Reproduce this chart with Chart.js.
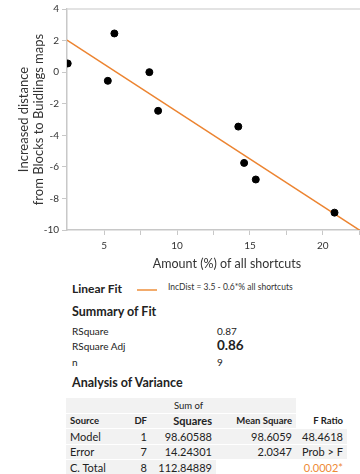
<!DOCTYPE html>
<html>
<head>
<meta charset="utf-8">
<script src="https://cdn.jsdelivr.net/npm/chart.js@4.4.0/dist/chart.umd.min.js"></script>
<style>
  body { margin: 0; background: #fff; font-family: Lato, "Open Sans", sans-serif; color: #222; }
  #wrap { position: relative; width: 360px; height: 474px; overflow: hidden; }
  #chartBox { position: absolute; left: 0; top: 0; width: 392px; height: 276px; }
  .t { position: absolute; white-space: nowrap; line-height: 1; }
  .b { font-weight: bold; }
  table { position: absolute; left: 66px; top: 397px; border-collapse: separate; border-spacing: 0 1px; font-size: 11px; }
  td { height: 14.5px; padding: 0 4px; background: #f2f2f2; text-align: right; white-space: nowrap; }
  td.l { text-align: left; }
  tr.hd td { font-weight: bold; font-size: 9.5px; }
  td.w { background: #fff; }
</style>
</head>
<body>
<div id="wrap">
  <div id="chartBox"><canvas id="fitChart"></canvas></div>

  <div class="t b" style="left:72px; top:283px; font-size:12px;">Linear Fit</div>
  <div style="position:absolute; left:137px; top:289px; width:20px; height:2px; background:#f2ab6c;"></div>
  <div class="t" style="left:168px; top:283px; font-size:8.5px; color:#333;">IncDist = 3.5 - 0.6*% all shortcuts</div>

  <div class="t b" style="left:72px; top:306px; font-size:12.5px;">Summary of Fit</div>
  <div class="t" style="left:72px; top:326px; font-size:10px;">RSquare</div>
  <div class="t" style="left:217px; top:326px; font-size:10px;">0.87</div>
  <div class="t" style="left:72px; top:341px; font-size:10px;">RSquare Adj</div>
  <div class="t b" style="left:217px; top:339px; font-size:13.5px;">0.86</div>
  <div class="t" style="left:72px; top:357px; font-size:10px;">n</div>
  <div class="t" style="left:217px; top:357px; font-size:10px;">9</div>

  <div class="t b" style="left:72px; top:377px; font-size:12.5px;">Analysis of Variance</div>

  <table>
    <tr><td class="l"></td><td></td><td style="text-align:center; padding-left:14px; font-size:9.5px;">Sum of</td><td></td><td class="w"></td></tr>
    <tr class="hd"><td class="l" style="width:55px;">Source</td><td style="width:14px;">DF</td><td style="width:57px; font-size:11px;">Squares</td><td style="width:72px;">Mean Square</td><td class="w" style="width:43px;">F Ratio</td></tr>
    <tr><td class="l">Model</td><td>1</td><td>98.60588</td><td>98.6059</td><td>48.4618</td></tr>
    <tr><td class="l">Error</td><td>7</td><td>14.24301</td><td>2.0347</td><td>Prob &gt; F</td></tr>
    <tr><td class="l">C. Total</td><td>8</td><td>112.84889</td><td class="w"></td><td class="w" style="color:#ee8a36;">0.0002*</td></tr>
  </table>
</div>

<script>
// Amount (%) of all shortcuts vs increased distance
const shortcutPct = [2.5, 5.25, 5.7, 8.1, 8.7, 14.2, 14.6, 15.4, 20.8];
const incDistance = [0.55, -0.55, 2.45, 0.0, -2.45, -3.45, -5.75, -6.8, -8.9];

// fitted line end points
const fitX = [2.45, 24.4];
const fitY = [2.03, -11.14];

const xTicks = [5, 7.5, 10, 12.5, 15, 17.5, 20, 22.5];
const yTicks = [4, 2, 0, -2, -4, -6, -8, -10];

const pointData = shortcutPct.map((x, i) => ({ x: x, y: incDistance[i] }));
const fitData = fitX.map((x, i) => ({ x: x, y: fitY[i] }));

// light frame line along the top of the plot
const topBorder = {
    id: 'topBorder',
    afterDraw(chart) {
        const a = chart.chartArea;
        const c = chart.ctx;
        c.save();
        c.strokeStyle = '#dadada';
        c.lineWidth = 1.5;
        c.beginPath();
        c.moveTo(a.left, a.top);
        c.lineTo(a.right, a.top);
        c.stroke();
        c.restore();
    }
};

const ctx = document.getElementById('fitChart').getContext('2d');
new Chart(ctx, {
    type: 'scatter',
    data: {
        datasets: [
            {
                label: 'Linear Fit',
                data: fitData,
                showLine: true,
                borderColor: '#ec8431',
                borderWidth: 1.5,
                pointRadius: 0,
                order: 2,
            },
            {
                label: 'Observed',
                data: pointData,
                backgroundColor: '#000',
                borderColor: '#000',
                pointRadius: 3.5,
                order: 1,
            },
        ],
    },
    options: {
        responsive: true,
        maintainAspectRatio: false,
        animation: false,
        layout: { padding: { top: 9, right: 0, left: 0, bottom: 0 } },
        plugins: { legend: { display: false }, tooltip: { enabled: false } },
        scales: {
            x: {
                type: 'linear',
                min: 2.45,
                max: 24.4,
                afterBuildTicks: (scale) => { scale.ticks = xTicks.map(v => ({ value: v })); },
                afterFit: (scale) => { scale.height = 46; },
                ticks: {
                    callback: (v) => (v % 5 === 0 ? v : ''),
                    color: '#333',
                    font: { family: 'Lato', size: 10 },
                    padding: 5,
                    maxRotation: 0,
                    autoSkip: false,
                },
                grid: { drawOnChartArea: false, tickLength: 5, color: '#c8c8c8' },
                border: { color: '#c8c8c8', width: 1.5 },
                title: {
                    display: true,
                    text: 'Amount (%) of all shortcuts',
                    color: '#333',
                    font: { family: 'Lato', size: 12.5 },
                    padding: { top: 2, bottom: 5 },
                },
            },
            y: {
                min: -10,
                max: 4,
                afterBuildTicks: (scale) => { scale.ticks = yTicks.map(v => ({ value: v })); },
                afterFit: (scale) => { scale.width = 67; },
                ticks: {
                    color: '#333',
                    font: { family: 'Lato', size: 10 },
                    padding: 3,
                    autoSkip: false,
                },
                grid: { drawOnChartArea: false, tickLength: 5, color: '#c8c8c8' },
                border: { color: '#c8c8c8', width: 1.5 },
                title: {
                    display: true,
                    text: ['Increased distance', 'from Blocks to Buidlings maps'],
                    color: '#333',
                    font: { family: 'Lato', size: 13, lineHeight: 1.15 },
                    padding: { top: 16, bottom: 0 },
                },
            },
        },
    },
    plugins: [topBorder],
});
</script>
</body>
</html>
